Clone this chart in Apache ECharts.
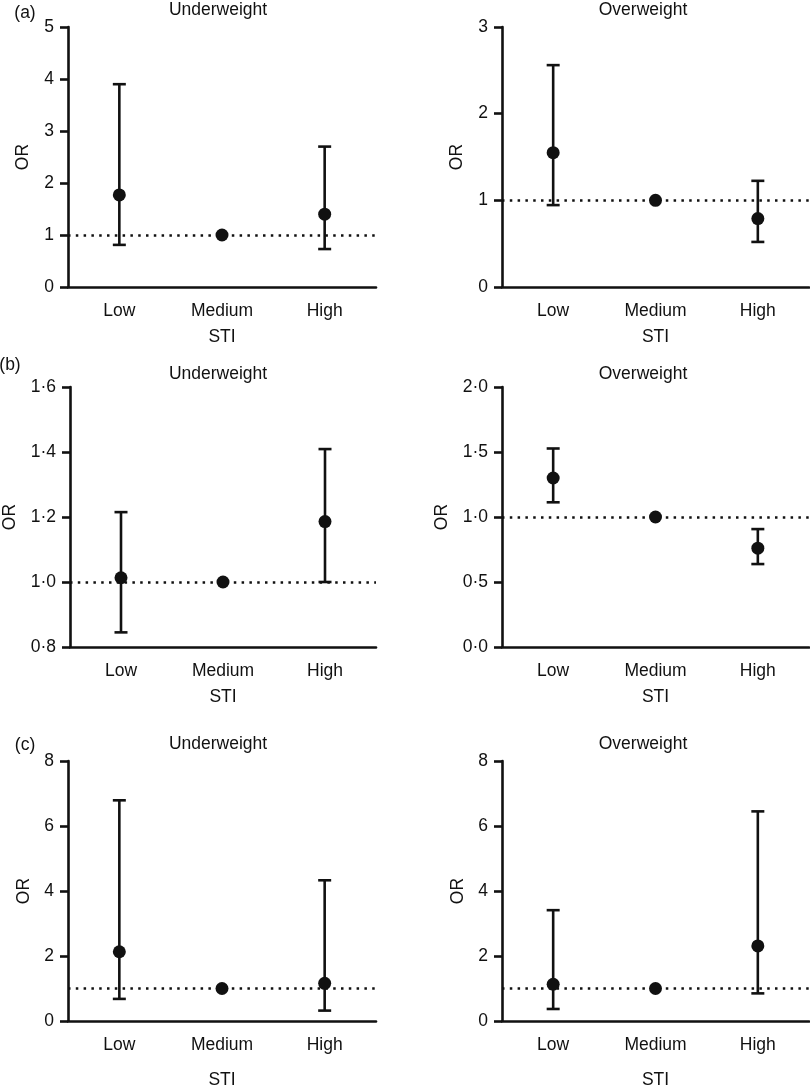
<!DOCTYPE html>
<html>
<head>
<meta charset="utf-8">
<script src="https://cdn.jsdelivr.net/npm/echarts@6/dist/echarts.min.js"></script>
<style>
html,body{margin:0;padding:0;background:#fff;}
#chart{width:810px;height:1091px;}
</style>
</head>
<body>
<div id="chart"></div>
<script>
// ---- data ----
const categories = ['Low', 'Medium', 'High'];

const aUnderOR = [1.77, 1, 1.40];
const aUnderLo = [0.81, null, 0.73];
const aUnderHi = [3.90, null, 2.70];

const aOverOR = [1.55, 1, 0.79];
const aOverLo = [0.945, null, 0.52];
const aOverHi = [2.56, null, 1.225];

const bUnderOR = [1.013, 1, 1.186];
const bUnderLo = [0.845, null, 1.0];
const bUnderHi = [1.215, null, 1.409];

const bOverOR = [1.30, 1, 0.76];
const bOverLo = [1.113, null, 0.638];
const bOverHi = [1.527, null, 0.907];

const cUnderOR = [2.13, 1, 1.16];
const cUnderLo = [0.68, null, 0.32];
const cUnderHi = [6.79, null, 4.33];

const cOverOR = [1.13, 1, 2.31];
const cOverLo = [0.37, null, 0.85];
const cOverHi = [3.41, null, 6.45];

// y-axis ticks per panel: [min, max, interval]
const yTicksA_U = [0, 5, 1];
const yTicksA_O = [0, 3, 1];
const yTicksB_U = [0.8, 1.6, 0.2];
const yTicksB_O = [0, 2, 0.5];
const yTicksC_U = [0, 8, 2];
const yTicksC_O = [0, 8, 2];

const panelLabels = ['(a)', '(b)', '(c)'];
const panelTitles = ['Underweight', 'Overweight'];
const xName = 'STI';
const yName = 'OR';

// ---- layout ----
const FONT = 'Liberation Sans, Arial, Helvetica, sans-serif';
const COLOR = '#111';
const FS = 17.5;
const LW = 2.6;

const panels = [
  {or: aUnderOR, lo: aUnderLo, hi: aUnderHi, ticks: yTicksA_U, dot: false, left: 68, width: 308, top: 27, nameGapY: 36, nameGapX: 41},
  {or: aOverOR, lo: aOverLo, hi: aOverHi, ticks: yTicksA_O, dot: false, left: 502, width: 307, top: 27, nameGapY: 36, nameGapX: 41},
  {or: bUnderOR, lo: bUnderLo, hi: bUnderHi, ticks: yTicksB_U, dot: true, left: 68, width: 308, top: 387, nameGapY: 51, nameGapX: 41},
  {or: bOverOR, lo: bOverLo, hi: bOverHi, ticks: yTicksB_O, dot: true, left: 502, width: 307, top: 387, nameGapY: 51, nameGapX: 41},
  {or: cUnderOR, lo: cUnderLo, hi: cUnderHi, ticks: yTicksC_U, dot: false, left: 68, width: 308, top: 761, nameGapY: 35, nameGapX: 50},
  {or: cOverOR, lo: cOverLo, hi: cOverHi, ticks: yTicksC_O, dot: false, left: 502, width: 307, top: 761, nameGapY: 35, nameGapX: 50}
];

const grids = [], xAxes = [], yAxes = [], series = [];
const axisLineStyle = {color: COLOR, width: LW};

panels.forEach((p, i) => {
  grids.push({left: p.left, width: p.width, top: p.top, height: 260, containLabel: false});
  xAxes.push({
    type: 'category', gridIndex: i, data: categories, boundaryGap: true,
    axisLine: {lineStyle: axisLineStyle},
    axisTick: {alignWithLabel: true, length: 10, lineStyle: axisLineStyle},
    axisLabel: {color: COLOR, fontSize: FS, fontFamily: FONT, margin: 15},
    splitLine: {show: false},
    name: xName, nameLocation: 'middle', nameGap: p.nameGapX,
    nameTextStyle: {color: COLOR, fontSize: FS, fontFamily: FONT}
  });
  const dot = p.dot;
  yAxes.push({
    type: 'value', gridIndex: i, min: p.ticks[0], max: p.ticks[1], interval: p.ticks[2],
    axisLine: {show: true, lineStyle: axisLineStyle},
    axisTick: {show: true, length: 8, lineStyle: axisLineStyle},
    axisLabel: {
      color: COLOR, fontSize: FS, fontFamily: FONT, margin: 14,
      formatter: v => dot ? (Math.round(v * 10) / 10).toFixed(1).replace('.', '\u00B7') : String(Math.round(v))
    },
    splitLine: {show: false},
    name: yName, nameLocation: 'middle', nameGap: p.nameGapY,
    nameTextStyle: {color: COLOR, fontSize: FS, fontFamily: FONT}
  });

  const errData = [];
  categories.forEach((c, k) => {
    if (p.lo[k] != null && p.hi[k] != null) errData.push([k, p.lo[k], p.hi[k]]);
  });

  series.push({
    type: 'custom', xAxisIndex: i, yAxisIndex: i, data: errData,
    encode: {x: 0, y: [1, 2]},
    silent: true, z: 3,
    renderItem: function (params, api) {
      const x = api.value(0);
      const top = api.coord([x, api.value(2)]);
      const bot = api.coord([x, api.value(1)]);
      const hw = 6.5;
      const st = {stroke: COLOR, lineWidth: LW};
      return {
        type: 'group',
        children: [
          {type: 'line', shape: {x1: top[0], y1: top[1], x2: bot[0], y2: bot[1]}, style: st},
          {type: 'line', shape: {x1: top[0] - hw, y1: top[1], x2: top[0] + hw, y2: top[1]}, style: st},
          {type: 'line', shape: {x1: bot[0] - hw, y1: bot[1], x2: bot[0] + hw, y2: bot[1]}, style: st}
        ]
      };
    },
    markLine: {
      silent: true, symbol: 'none', label: {show: false},
      lineStyle: {color: COLOR, width: 2.5, type: [2.5, 5.3]},
      data: [{yAxis: 1}], z: 1
    }
  });
  series.push({
    type: 'scatter', xAxisIndex: i, yAxisIndex: i, data: p.or,
    symbol: 'circle', symbolSize: 13, itemStyle: {color: COLOR, opacity: 1}, z: 5, silent: true
  });
});

const titlePos = [
  [218, 10], [643, 10],
  [218, 374], [643, 374],
  [218, 744], [643, 744]
];
const labelPos = [[25, 13], [10, 365], [25, 745]];

const graphics = [];
titlePos.forEach((pos, i) => {
  graphics.push({type: 'text', x: pos[0], y: pos[1], style: {text: panelTitles[i % 2], fill: COLOR, font: FS + 'px ' + FONT, textAlign: 'center', textVerticalAlign: 'middle'}});
});
labelPos.forEach((pos, i) => {
  graphics.push({type: 'text', x: pos[0], y: pos[1], style: {text: panelLabels[i], fill: COLOR, font: FS + 'px ' + FONT, textAlign: 'center', textVerticalAlign: 'middle'}});
});

const chart = echarts.init(document.getElementById('chart'), null, {renderer: 'canvas'});
chart.setOption({
  backgroundColor: '#fff',
  animation: false,
  grid: grids, xAxis: xAxes, yAxis: yAxes, series: series,
  graphic: graphics
});
</script>
</body>
</html>
